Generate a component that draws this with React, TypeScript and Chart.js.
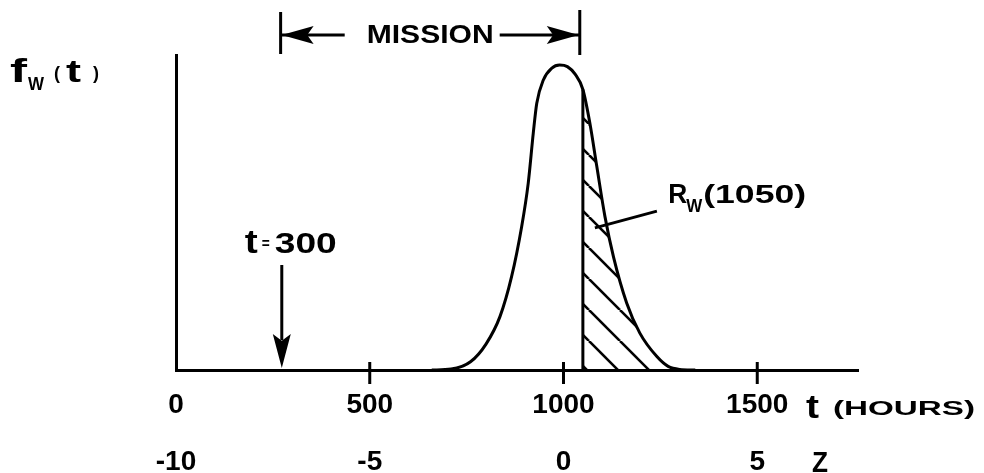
import React, { useEffect, useRef } from 'react';
import { Chart, registerables } from 'chart.js';

Chart.register(...registerables);

// ---- data ----
const timeHours = [660, 710, 760, 800, 836, 866, 892, 909, 922, 931, 948, 970, 990, 1010, 1030, 1050, 1068, 1086, 1107, 1129, 1163, 1197, 1241, 1270, 1300, 1340];
const densityRel = [0, 0.003, 0.027, 0.085, 0.175, 0.306, 0.47, 0.613, 0.777, 0.875, 0.951, 0.99, 1.0, 0.995, 0.97, 0.92, 0.81, 0.667, 0.503, 0.371, 0.22, 0.121, 0.044, 0.012, 0.002, 0];
const tTickValues = [0, 500, 1000, 1500];
const tTickMarks = [500, 1000, 1500];
const zTickValues = [-10, -5, 0, 5];
const meanLife = 1000;
const sdLife = 100;
const tMin = 0;
const tMax = 1760;
const yMax = 1.033;
const reliabilityFrom = 1050;
const missionStartT = 270;
const missionEndT = 1042;
const failureMarkT = 273;

const FONT = '"Liberation Sans", Arial, sans-serif';

function drawText(ctx: any, text: string, x: number, y: number, size: number, width?: number, align: string = 'left') {
  ctx.save();
  ctx.font = `bold ${size}px ${FONT}`;
  ctx.textBaseline = 'alphabetic';
  ctx.textAlign = 'left';
  const w = ctx.measureText(text).width;
  const sx = width ? width / w : 1;
  const rw = w * sx;
  const left = align === 'center' ? x - rw / 2 : align === 'right' ? x - rw : x;
  ctx.translate(left, y);
  ctx.scale(sx, 1);
  ctx.fillText(text, 0, 0);
  ctx.restore();
}

function seg(ctx: any, x1: number, y1: number, x2: number, y2: number) {
  ctx.beginPath();
  ctx.moveTo(x1, y1);
  ctx.lineTo(x2, y2);
  ctx.stroke();
}

function arrowHead(ctx: any, tipX: number, tipY: number, dir: 'left' | 'right' | 'down', len: number, half: number) {
  ctx.beginPath();
  if (dir === 'down') {
    ctx.moveTo(tipX, tipY);
    ctx.lineTo(tipX - half, tipY - len);
    ctx.lineTo(tipX, tipY - len * 0.8);
    ctx.lineTo(tipX + half, tipY - len);
  } else {
    const s = dir === 'left' ? 1 : -1;
    ctx.moveTo(tipX, tipY);
    ctx.lineTo(tipX + s * len, tipY - half);
    ctx.lineTo(tipX + s * len * 0.8, tipY);
    ctx.lineTo(tipX + s * len, tipY + half);
  }
  ctx.closePath();
  ctx.fill();
}

const annotatePlugin = {
  id: 'annotate',
  afterDraw(chart: any) {
    const { ctx, chartArea, scales } = chart;
    const xs = scales.x;
    const ys = scales.y;
    const bottom = chartArea.bottom;
    ctx.save();
    ctx.strokeStyle = '#000';
    ctx.fillStyle = '#000';
    ctx.lineWidth = 3;
    ctx.lineCap = 'butt';

    // tick marks crossing the t axis
    for (const v of tTickMarks) {
      const px = xs.getPixelForValue(v);
      seg(ctx, px, bottom - 8, px, bottom + 14);
    }

    // MISSION bracket
    const xL = xs.getPixelForValue(missionStartT);
    const xR = xs.getPixelForValue(missionEndT);
    const top = chartArea.top;
    seg(ctx, xL, top - 43, xL, top - 1);
    seg(ctx, xR, top - 45, xR, top);
    const ay = top - 20;
    const mid = (xL + xR) / 2;
    const textW = 127;
    seg(ctx, xL, ay, mid - textW / 2 - 22, ay);
    seg(ctx, mid + textW / 2 + 6, ay, xR, ay);
    arrowHead(ctx, xL + 1, ay, 'left', 32, 9);
    arrowHead(ctx, xR - 1, ay, 'right', 32, 9);
    drawText(ctx, 'MISSION', mid, top - 12, 25, textW, 'center');

    // t = 300 arrow
    const fx = xs.getPixelForValue(failureMarkT);
    seg(ctx, fx, bottom - 105, fx, bottom - 30);
    arrowHead(ctx, fx, bottom - 2, 'down', 34, 9);
    drawText(ctx, 't', fx - 37, bottom - 117, 33, 13);
    drawText(ctx, '=', fx - 20, bottom - 121, 16, 8);
    drawText(ctx, '300', fx - 7, bottom - 117, 30, 62);

    // R_W(1050) label with leader
    const lx1 = xs.getPixelForValue(1241);
    const ly1 = ys.getPixelForValue(0.521);
    const lx2 = xs.getPixelForValue(1081);
    const ly2 = ys.getPixelForValue(0.466);
    seg(ctx, lx1, ly1, lx2, ly2);
    const rx = xs.getPixelForValue(1270);
    const rb = ys.getPixelForValue(0.548);
    drawText(ctx, 'R', rx, rb, 27, 19);
    drawText(ctx, 'W', rx + 18, rb + 9, 18, 16);
    drawText(ctx, '(1050)', rx + 35, rb, 26, 103);

    // y label f_W(t)
    drawText(ctx, 'f', 10, 82, 34, 17);
    drawText(ctx, 'W', 28, 90, 18, 16);
    drawText(ctx, '(', 54, 79, 18);
    drawText(ctx, 't', 66, 82, 32, 15);
    drawText(ctx, ')', 93, 79, 18);

    // axis names
    drawText(ctx, 't', 806, 418, 34, 13);
    drawText(ctx, '(HOURS)', 833, 415, 21, 142);
    drawText(ctx, 'Z', 812, 472, 29, 16);

    ctx.restore();
  },
};

export default function App() {
  const ref = useRef<HTMLCanvasElement | null>(null);

  useEffect(() => {
    const canvas = ref.current;
    if (!canvas) return;
    const c2d = canvas.getContext('2d') as CanvasRenderingContext2D;

    // hatch pattern for the reliability tail
    const pc = document.createElement('canvas');
    const ps = 31;
    pc.width = ps;
    pc.height = ps;
    const p = pc.getContext('2d') as CanvasRenderingContext2D;
    p.strokeStyle = '#000';
    p.lineWidth = 2.6;
    for (const o of [-ps, 0, ps]) {
      p.beginPath();
      p.moveTo(o, 0);
      p.lineTo(o + ps, ps);
      p.stroke();
    }
    const pattern = c2d.createPattern(pc, 'repeat');

    const curve = timeHours.map((t, i) => ({ x: t, y: densityRel[i] }));
    const tail = curve.filter((pt) => pt.x >= reliabilityFrom);
    const startVal = densityRel[timeHours.indexOf(reliabilityFrom)];
    const divider = [
      { x: reliabilityFrom, y: 0 },
      { x: reliabilityFrom, y: startVal },
    ];

    const chart = new Chart(c2d, {
      type: 'line',
      data: {
        datasets: [
          {
            data: curve,
            borderColor: '#000',
            borderWidth: 3,
            pointRadius: 0,
            cubicInterpolationMode: 'monotone',
            fill: false,
          },
          {
            data: divider,
            borderColor: '#000',
            borderWidth: 3,
            pointRadius: 0,
            tension: 0,
            fill: false,
          },
          {
            data: tail,
            borderWidth: 0,
            borderColor: 'rgba(0,0,0,0)',
            backgroundColor: pattern as any,
            pointRadius: 0,
            cubicInterpolationMode: 'monotone',
            fill: 'origin',
          },
        ],
      },
      options: {
        animation: false,
        responsive: false,
        maintainAspectRatio: false,
        devicePixelRatio: 1,
        events: [],
        layout: { padding: { top: 55, left: 176, right: 984 - 858, bottom: 0 } },
        plugins: { legend: { display: false }, tooltip: { enabled: false } },
        scales: {
          x: {
            type: 'linear',
            position: 'bottom',
            min: tMin,
            max: tMax,
            grid: { display: false, drawTicks: false },
            border: { display: true, color: '#000', width: 3 },
            afterBuildTicks: (scale: any) => {
              scale.ticks = tTickValues.map((v) => ({ value: v }));
            },
            afterFit: (scale: any) => {
              scale.height = 55;
            },
            ticks: {
              color: '#000',
              padding: 18,
              maxRotation: 0,
              autoSkip: false,
              font: { family: FONT, size: 28, weight: 'bold' },
              callback: (v: any) => String(v),
            },
          },
          x2: {
            type: 'linear',
            axis: 'x',
            position: 'bottom',
            min: (tMin - meanLife) / sdLife,
            max: (tMax - meanLife) / sdLife,
            grid: { display: false, drawTicks: false },
            border: { display: false },
            afterBuildTicks: (scale: any) => {
              scale.ticks = zTickValues.map((v) => ({ value: v }));
            },
            afterFit: (scale: any) => {
              scale.height = 48;
            },
            ticks: {
              color: '#000',
              padding: 20,
              maxRotation: 0,
              autoSkip: false,
              font: { family: FONT, size: 28, weight: 'bold' },
              callback: (v: any) => (v < 0 ? '-' + Math.abs(v) : String(v)),
            },
          },
          y: {
            type: 'linear',
            position: 'left',
            min: 0,
            max: yMax,
            grid: { display: false, drawTicks: false },
            border: { display: true, color: '#000', width: 3 },
            ticks: { display: false },
            afterFit: (scale: any) => {
              scale.width = 0;
            },
          },
        },
      } as any,
      plugins: [annotatePlugin],
    });

    return () => chart.destroy();
  }, []);

  return (
    <canvas
      ref={ref}
      width={984}
      height={473}
      style={{ position: 'absolute', left: 0, top: 0, width: 984, height: 473, background: '#fff' }}
    />
  );
}
